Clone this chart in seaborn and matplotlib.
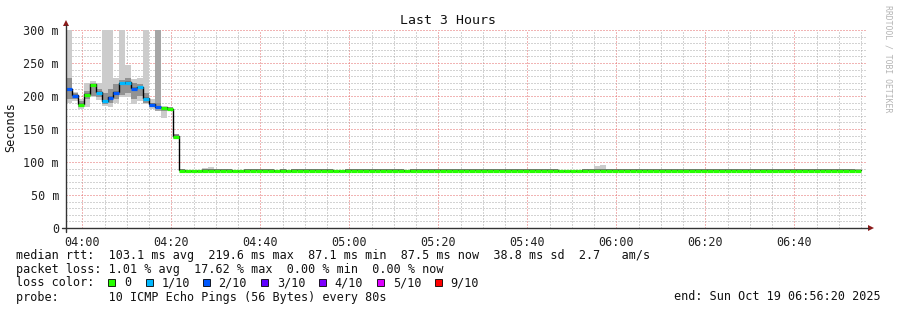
import numpy as np
import pandas as pd
import matplotlib
matplotlib.use("Agg")
import matplotlib.pyplot as plt
import matplotlib.dates as mdates
from matplotlib.patches import Polygon, Rectangle
from matplotlib.lines import Line2D
import seaborn as sns

# ---------------- data ----------------
start_time = "2025-10-19 03:56:20"
step_seconds = 80
n_steps = 135

# first 19 steps (variable period)
median_head = [211, 201, 188, 203, 218, 206, 193, 198, 206, 220, 221, 212, 214, 197, 188, 184, 183, 181, 139]
loss_head = [2, 2, 0, 0, 0, 1, 1, 2, 2, 1, 1, 2, 1, 1, 2, 2, 0, 0, 0]
smoke_lo_head = [190, 193, 181, 183, 198, 194, 185, 183, 190, 198, 198, 188, 193, 188, 180, 178, 167, 178, 135]
smoke_hi_head = [300, 206, 195, 219, 223, 219, 300, 300, 227, 300, 247, 226, 227, 300, 195, 300, 184, 184, 143]
mid_lo_head = [195, 195, 184, 195, 200, 198, 188, 190, 196, 202, 205, 195, 200, 190, 183, 182, 178, 179, 136]
mid_hi_head = [228, 205, 192, 207, 218, 210, 205, 210, 218, 225, 228, 220, 218, 205, 190, 190, 183, 183, 142]

# remaining steps (flat period); last bin not yet available
median_tail = [
    87.9, 87.1, 87.1, 87.1, 87.9, 87.9, 87.9, 87.9, 87.9, 87.1,
    87.1, 87.9, 87.9, 87.9, 87.9, 87.9, 87.1, 87.9, 87.1, 87.9,
    87.9, 87.9, 87.9, 87.9, 87.9, 87.9, 87.1, 87.1, 87.9, 87.9,
    87.9, 87.9, 87.9, 87.9, 87.9, 87.9, 87.9, 87.9, 87.1, 87.9,
    87.9, 87.9, 87.9, 87.9, 87.9, 87.9, 87.9, 87.9, 87.9, 87.9,
    87.9, 87.9, 87.9, 87.9, 87.9, 87.9, 87.9, 87.9, 87.9, 87.9,
    87.9, 87.9, 87.9, 87.9, 87.1, 87.1, 87.1, 87.1, 87.9, 87.9,
    87.9, 87.9, 87.9, 87.9, 87.9, 87.9, 87.9, 87.9, 87.9, 87.9,
    87.9, 87.9, 87.9, 87.9, 87.9, 87.9, 87.9, 87.9, 87.9, 87.9,
    87.9, 87.9, 87.9, 87.9, 87.9, 87.9, 87.9, 87.9, 87.9, 87.9,
    87.9, 87.9, 87.9, 87.9, 87.9, 87.9, 87.9, 87.9, 87.9, 87.9,
    87.9, 87.9, 87.9, 87.9, 87.5, np.nan,
]
smoke_hi_tail_bumps = {23: 91.5, 24: 92.0, 89: 93.5, 90: 95.0}

loss_levels = ["0", "1/10", "2/10", "3/10", "4/10", "5/10", "9/10"]
loss_colors = ["#26ff00", "#00b8ff", "#0059ff", "#5e00ff", "#7e00ff", "#dd00ff", "#ff0000"]

yticks = [0, 50, 100, 150, 200, 250, 300]
ytick_labels = ["0", "50 m", "100 m", "150 m", "200 m", "250 m", "300 m"]

legend_rows = [
    "median rtt:  103.1 ms avg  219.6 ms max  87.1 ms min  87.5 ms now  38.8 ms sd  2.7   am/s",
    "packet loss: 1.01 % avg  17.62 % max  0.00 % min  0.00 % now",
    "loss color:",
    "probe:       10 ICMP Echo Pings (56 Bytes) every 80s",
]

# ---------------- assemble ----------------
median = np.array(median_head + median_tail, dtype=float)
loss = np.array(loss_head + [0] * len(median_tail))
smoke_lo = np.array(smoke_lo_head + [m - 1.5 for m in median_tail], dtype=float)
smoke_hi = np.array(smoke_hi_head + [m + 1.5 for m in median_tail], dtype=float)
for k, v in smoke_hi_tail_bumps.items():
    smoke_hi[k] = v
mid_lo = np.array(mid_lo_head + [m - 1.0 for m in median_tail], dtype=float)
mid_hi = np.array(mid_hi_head + [m + 1.0 for m in median_tail], dtype=float)

t0 = pd.Timestamp(start_time)
times = pd.date_range(t0, periods=n_steps + 1, freq=f"{step_seconds}s")
edges = mdates.date2num(times.to_pydatetime())
left = edges[:-1]
width = np.diff(edges)
valid = ~np.isnan(median)

# ---------------- figure ----------------
sns.set_style("white")
plt.rcParams["font.family"] = ["DejaVu Sans Mono", "DejaVu Sans"]

W, H = 897, 310
fig = plt.figure(figsize=(W / 100, H / 100), dpi=100)
fig.patch.set_facecolor("white")

def fx(x):
    return x / W

def fy(y):
    return 1 - y / H

ax = fig.add_axes([fx(66), fy(228), 801 / W, 198 / H])
ax.set_facecolor("white")

# smoke
outer_colors = np.array(["#cccccc"] * n_steps, dtype=object)
outer_colors[15] = "#a6a6a6"
ax.bar(left[valid], (smoke_hi - smoke_lo)[valid], bottom=smoke_lo[valid], width=width[valid],
       align="edge", color=list(outer_colors[valid]), lw=0, zorder=2)
ax.bar(left[valid], (mid_hi - mid_lo)[valid], bottom=mid_lo[valid], width=width[valid],
       align="edge", color="#929292", lw=0, zorder=3)

# median step line (black) via seaborn
last = np.where(valid)[0][-1]
df = pd.DataFrame({"t": edges[:last + 2], "rtt": np.append(median[:last + 1], median[last])})
sns.lineplot(data=df, x="t", y="rtt", drawstyle="steps-post", color="black",
             lw=1.0, ax=ax, zorder=4)

# colored median segments
seg_colors = [loss_colors[i] for i in loss[valid]]
ax.hlines(median[valid] - 1.0, edges[:-1][valid], edges[1:][valid], colors=seg_colors, lw=2.3,
          capstyle="butt", zorder=5)

ax.set_xlabel("")
ax.set_ylabel("")
ax.set_xlim(edges[0], edges[-1])
ax.set_ylim(0, 300)

# grid / ticks
ax.xaxis.set_major_locator(mdates.MinuteLocator(byminute=[0, 20, 40]))
ax.xaxis.set_minor_locator(mdates.MinuteLocator(byminute=range(0, 60, 5)))
ax.xaxis.set_major_formatter(mdates.DateFormatter("%H:%M"))
ax.set_yticks(yticks)
ax.set_yticklabels(ytick_labels)
ax.set_yticks(np.arange(0, 301, 10), minor=True)
ax.set_axisbelow(True)
ax.grid(which="minor", color="#a8a8a8", lw=0.72, ls=(0, (1, 2)))
ax.grid(which="major", color="#e46a6a", lw=0.72, ls=(0, (1, 2)))
for s in ax.spines.values():
    s.set_visible(False)
ax.tick_params(axis="both", which="major", labelsize=8.5, colors="#222222", pad=2)
ax.tick_params(axis="x", which="major", length=2.5, width=0.8, direction="out", pad=3)
ax.tick_params(axis="x", which="minor", length=1.5, width=0.7, direction="out")
ax.tick_params(axis="y", which="major", length=3, width=0.8, direction="out", pad=2)
ax.tick_params(axis="y", which="minor", length=1.5, width=0.7, direction="out")

# axes lines with arrows
axis_col = "#333333"
arrow_col = "#8b1a1a"
fig.add_artist(Line2D([fx(62), fx(868)], [fy(228), fy(228)], color=axis_col, lw=1.0))
fig.add_artist(Line2D([fx(66), fx(66)], [fy(232), fy(25)], color=axis_col, lw=1.0))
fig.add_artist(Polygon([[fx(868), fy(225)], [fx(874), fy(228)], [fx(868), fy(231)]],
                       closed=True, color=arrow_col, lw=0))
fig.add_artist(Polygon([[fx(63), fy(26)], [fx(66), fy(20)], [fx(69), fy(26)]],
                       closed=True, color=arrow_col, lw=0))

# texts
fig.text(fx(448), fy(24.5), "Last 3 Hours", ha="center", va="baseline", fontsize=9.5, color="#111111")
fig.text(fx(11), fy(127), "Seconds", ha="center", va="center", rotation=90, fontsize=8.5, color="#111111")
fig.text(fx(888), fy(5), "RRDTOOL / TOBI OETIKER", ha="center", va="top", rotation=270,
         fontsize=5.9, color="#b4b4b4")

row_y = [258.5, 272.5, 286.5, 300.5]
for txt, yy in zip(legend_rows, row_y):
    fig.text(fx(16), fy(yy), txt, ha="left", va="baseline", fontsize=8.5, color="#111111")

square_x = [108.3, 146, 202.7, 261, 319, 377, 435]
label_x = [124, 161.5, 218.3, 276.7, 334.7, 392.7, 450]
for sxp, lxp, col, lab in zip(square_x, label_x, loss_colors, loss_levels):
    fig.add_artist(Rectangle((fx(sxp), fy(286)), 7 / W, 7 / H, facecolor=col,
                             edgecolor="black", lw=0.6))
    fig.text(fx(lxp), fy(286.5), lab, ha="left", va="baseline", fontsize=8.5, color="#111111")

fig.text(fx(881), fy(300.5), "end: Sun Oct 19 06:56:20 2025", ha="right", va="baseline",
         fontsize=8.5, color="#111111")

fig.savefig("out.png", dpi=100, facecolor="white")
